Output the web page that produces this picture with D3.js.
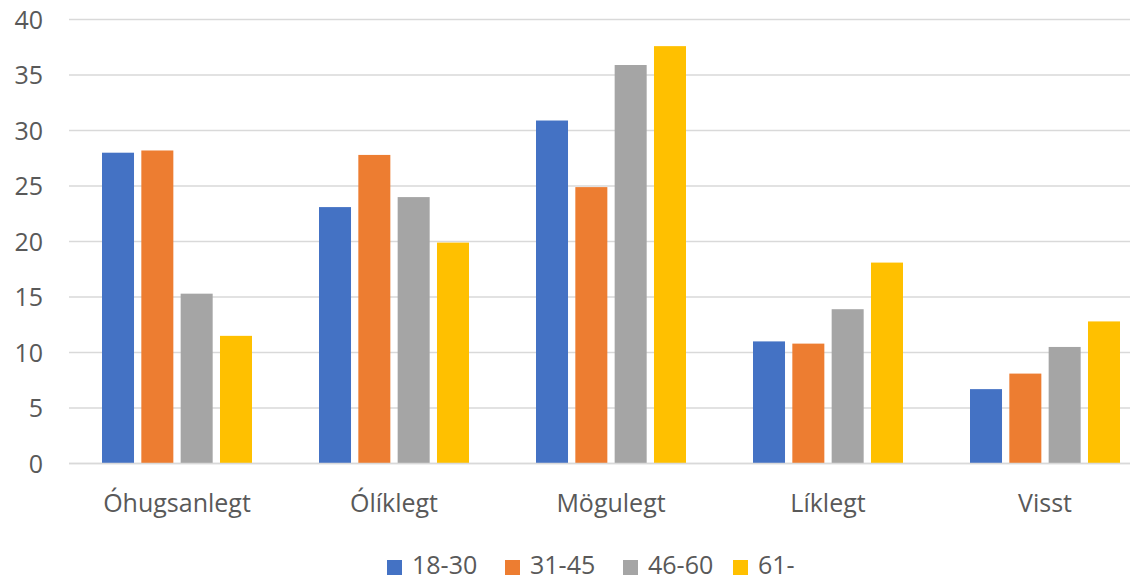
<!DOCTYPE html>
<html><head><meta charset="utf-8">
<script src="https://cdn.jsdelivr.net/npm/d3@7"></script>
<style>body{margin:0;background:#fff}svg{display:block}text{font-family:"Open Sans",sans-serif;fill:#595959}</style>
</head><body><svg id="c" width="1135" height="582"></svg>
<script>
const categories = ["Óhugsanlegt","Ólíklegt","Mögulegt","Líklegt","Visst"];
const seriesNames = ["18-30","31-45","46-60","61-"];
const colors = ["#4472C4","#ED7D31","#A5A5A5","#FFC000"];
const s1830 = [28.0, 23.1, 30.9, 11.0, 6.7];
const s3145 = [28.2, 27.8, 24.9, 10.8, 8.1];
const s4660 = [15.3, 24.0, 35.9, 13.9, 10.5];
const s61 = [11.5, 19.9, 37.6, 18.1, 12.8];
const yTicks = [0,5,10,15,20,25,30,35,40];
const allSeries = [s1830, s3145, s4660, s61];

const FS = 25;
const svg = d3.select("#c");
const x0 = d3.scaleBand().domain(categories).range([68.5, 1153.5]).paddingInner(0).paddingOuter(0);
const groupW = 150;
const x1 = d3.scaleBand().domain(seriesNames).range([0, groupW]).paddingInner(0.186).paddingOuter(0);
const y = d3.scaleLinear().domain([0,40]).range([463.5, 19.5]);

// gridlines
svg.append("g").selectAll("line").data(yTicks).join("line")
  .attr("x1", 69).attr("x2", 1130)
  .attr("y1", d => y(d)).attr("y2", d => y(d))
  .attr("stroke", "#D9D9D9").attr("stroke-width", 1.3);

// y axis labels
const yAxis = d3.axisLeft(y).tickValues(yTicks).tickSize(0).tickPadding(0);
const ga = svg.append("g").attr("transform", "translate(43,0)").call(yAxis);
ga.select(".domain").remove();
ga.selectAll("text").attr("font-size", FS).style("font-family", '"Open Sans",sans-serif').attr("fill", "#595959").attr("dy", "0.35em");

// bars
const groups = svg.append("g").selectAll("g").data(categories).join("g")
  .attr("transform", c => `translate(${x0(c) + (x0.bandwidth() - groupW)/2},0)`);
groups.selectAll("rect").data((c, i) => seriesNames.map((s, j) => ({s, j, v: allSeries[j][i]})))
  .join("rect")
  .attr("x", d => x1(d.s)).attr("width", x1.bandwidth())
  .attr("y", d => y(d.v)).attr("height", d => y(0) - y(d.v))
  .attr("fill", d => colors[d.j]);

// baseline
svg.append("line").attr("x1", 69).attr("x2", 1130).attr("y1", y(0)).attr("y2", y(0)).attr("stroke", "#D9D9D9").attr("stroke-width", 1.3);

// x axis labels
const xAxis = d3.axisBottom(x0).tickSize(0).tickPadding(0);
const gx = svg.append("g").attr("transform", "translate(0,503)").call(xAxis);
gx.select(".domain").remove();
gx.selectAll("text").attr("font-size", FS).style("font-family", '"Open Sans",sans-serif').attr("fill", "#595959").attr("dy", "0.35em").attr("y", 0);

// legend
const legX = [387, 505, 623, 733];
const leg = svg.append("g").selectAll("g").data(seriesNames).join("g")
  .attr("transform", (d, i) => `translate(${legX[i]},560)`);
leg.append("rect").attr("width", 15).attr("height", 15).attr("fill", (d, i) => colors[i]);
leg.append("text").attr("x", 25).attr("y", 14).attr("font-size", FS).text(d => d);
</script></body></html>
